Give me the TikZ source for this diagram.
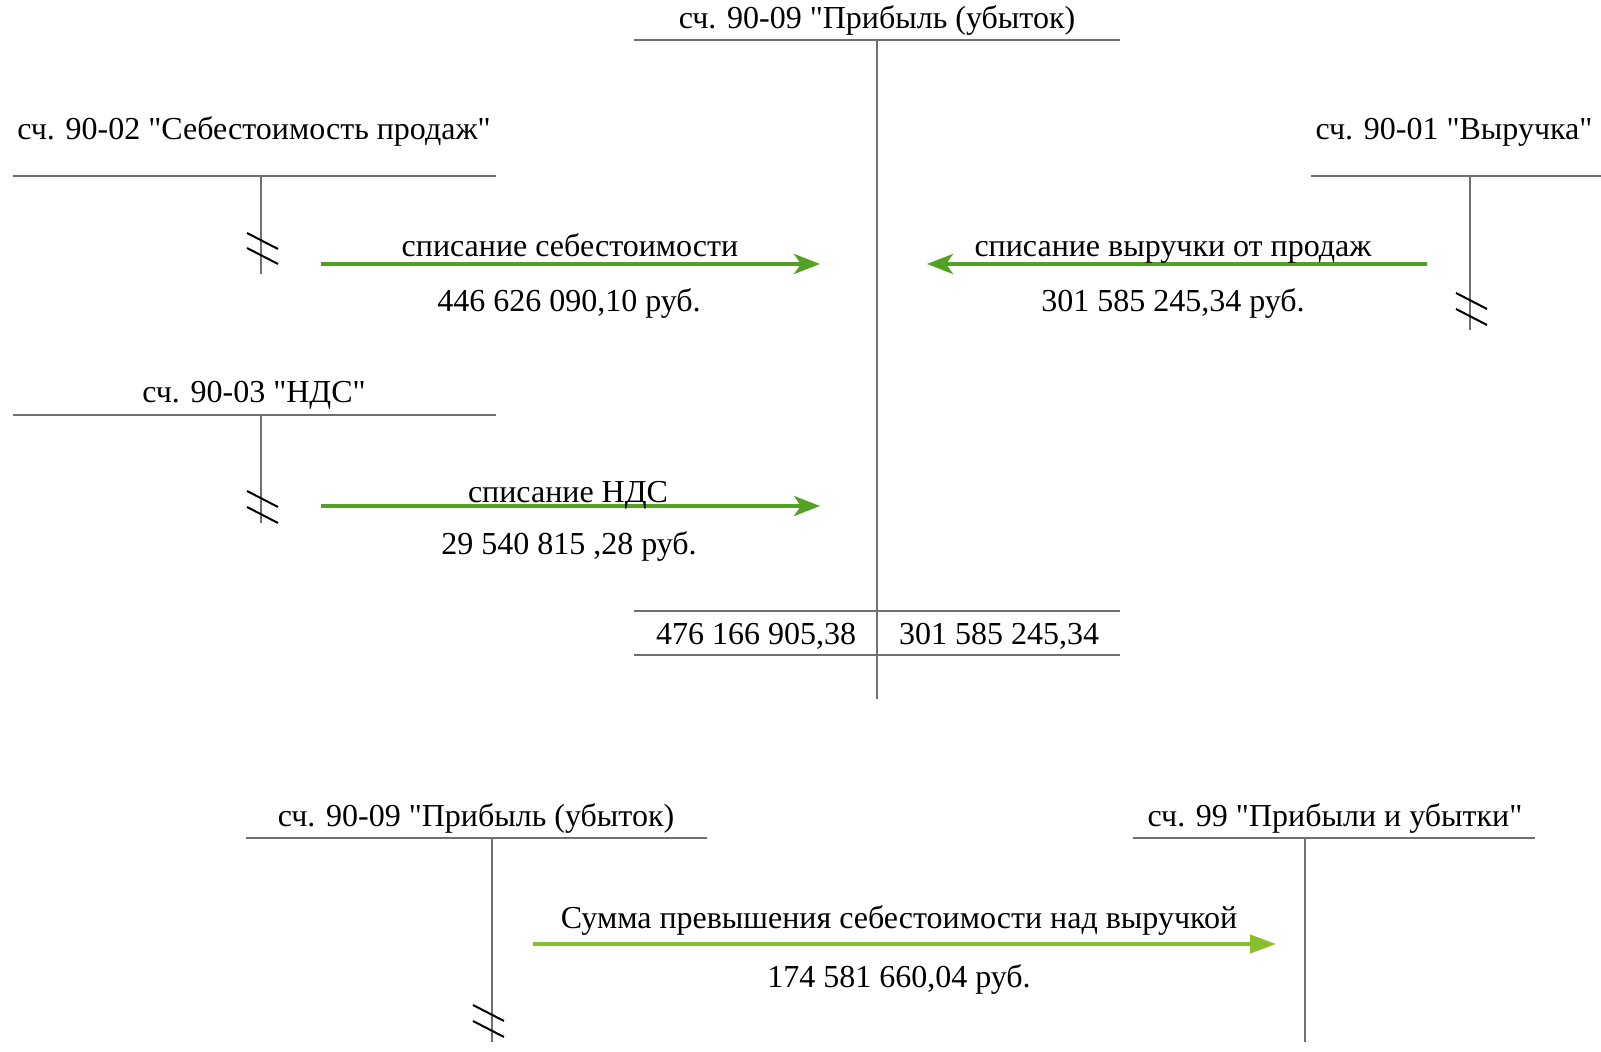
\documentclass[tikz,border=0pt]{standalone}
\usepackage{fontspec}
\setmainfont{Liberation Serif}[Ligatures=TeXOff]
\usetikzlibrary{arrows.meta}
\definecolor{tgrey}{RGB}{112,112,112}
\definecolor{gdark}{RGB}{82,160,36}
\definecolor{glight}{RGB}{135,192,42}
\tikzset{
  lbl/.style={anchor=base,inner sep=0pt,font=\fontsize{16}{19}\selectfont},
  tline/.style={draw=tgrey,line width=1pt},
  vline/.style={draw=tgrey,line width=0.75pt},
  hashmark/.style={draw=black,line width=1pt},
  garrow/.style={draw=gdark,line width=2pt,-{Stealth[length=13pt,width=10pt,inset=3.5pt]}},
  garrowb/.style={draw=glight,line width=2pt,-{Triangle[length=13pt,width=9pt]}}
}
\begin{document}
\begin{tikzpicture}[x=0.5pt,y=-0.5pt]
\path[use as bounding box] (0,0) rectangle (1601,1052);

% ---- top account 90-09
\node[lbl] (t9) at (877,29) {сч. 90-09 "Прибыль (убыток)};
\coordinate (t9l) at (634,40); \coordinate (t9r) at (1120,40);
\coordinate (t9top) at (877,40); \coordinate (t9bot) at (877,699);
\draw[tline] (t9l) -- (t9r);
\draw[vline] (t9top) -- (t9bot);
\coordinate (s1l) at (634,611); \coordinate (s1r) at (1120,611);
\coordinate (s2l) at (634,655); \coordinate (s2r) at (1120,655);
\draw[tline] (s1l) -- (s1r);
\draw[tline] (s2l) -- (s2r);
\node[lbl] (tdeb) at (756,645) {476 166 905,38};
\node[lbl] (tcred) at (999,645) {301 585 245,34};

% ---- 90-02
\node[lbl] (a2) at (254,140) {сч. 90-02 "Себестоимость продаж"};
\coordinate (a2l) at (13,176); \coordinate (a2r) at (496,176);
\coordinate (a2top) at (261,176); \coordinate (a2bot) at (261,274);
\draw[tline] (a2l) -- (a2r);
\draw[vline] (a2top) -- (a2bot);
\draw[hashmark] (247,233) -- (278,249);
\draw[hashmark] (247,248) -- (278,264);
\coordinate (ar1s) at (321,264); \coordinate (ar1e) at (820,264);
\draw[garrow] (ar1s) -- (ar1e);
\node[lbl] (ar1t) at (570,257) {списание себестоимости};
\node[lbl] (ar1n) at (569,312) {446 626 090,10 руб.};

% ---- 90-01
\node[lbl] (a1) at (1454,140) {сч. 90-01 "Выручка"};
\coordinate (a1l) at (1311,176); \coordinate (a1r) at (1601,176);
\coordinate (a1top) at (1470,176); \coordinate (a1bot) at (1470,330);
\draw[tline] (a1l) -- (a1r);
\draw[vline] (a1top) -- (a1bot);
\draw[hashmark] (1456,293) -- (1487,309);
\draw[hashmark] (1456,309) -- (1487,325);
\coordinate (ar2s) at (1427,264); \coordinate (ar2e) at (927,264);
\draw[garrow] (ar2s) -- (ar2e);
\node[lbl] (ar2t) at (1173,257) {списание выручки от продаж};
\node[lbl] (ar2n) at (1173,312) {301 585 245,34 руб.};

% ---- 90-03
\node[lbl] (a3) at (254,403) {сч. 90-03 "НДС"};
\coordinate (a3l) at (13,415); \coordinate (a3r) at (496,415);
\coordinate (a3top) at (261,415); \coordinate (a3bot) at (261,523);
\draw[tline] (a3l) -- (a3r);
\draw[vline] (a3top) -- (a3bot);
\draw[hashmark] (247,491) -- (278,507);
\draw[hashmark] (247,507) -- (278,523);
\coordinate (ar3s) at (321,506); \coordinate (ar3e) at (820,506);
\draw[garrow] (ar3s) -- (ar3e);
\node[lbl] (ar3t) at (568,503) {списание НДС};
\node[lbl] (ar3n) at (569,555) {29 540 815 ,28 руб.};

% ---- bottom 90-09
\node[lbl] (b9) at (476,827) {сч. 90-09 "Прибыль (убыток)};
\coordinate (b9l) at (246,838); \coordinate (b9r) at (707,838);
\coordinate (b9top) at (492,838); \coordinate (b9bot) at (492,1042);
\draw[tline] (b9l) -- (b9r);
\draw[vline] (b9top) -- (b9bot);
\draw[hashmark] (473,1005) -- (504,1021);
\draw[hashmark] (473,1021) -- (504,1037);

% ---- 99
\node[lbl] (b99) at (1335,827) {сч. 99 "Прибыли и убытки"};
\coordinate (b99l) at (1133,838); \coordinate (b99r) at (1535,838);
\coordinate (b99top) at (1305,838); \coordinate (b99bot) at (1305,1042);
\draw[tline] (b99l) -- (b99r);
\draw[vline] (b99top) -- (b99bot);

\coordinate (ar4s) at (533,944); \coordinate (ar4e) at (1276,944);
\draw[garrowb] (ar4s) -- (ar4e);
\node[lbl] (ar4t) at (899,928) {Сумма превышения себестоимости над выручкой};
\node[lbl] (ar4n) at (899,987) {174 581 660,04 руб.};
\end{tikzpicture}
\end{document}
